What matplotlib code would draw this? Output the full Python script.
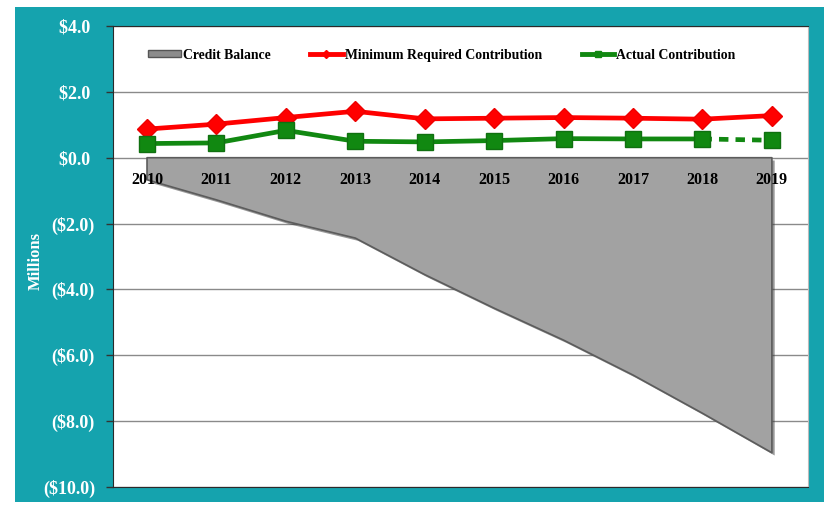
import numpy as np
import matplotlib
matplotlib.use('Agg')
import matplotlib.pyplot as plt
from matplotlib.lines import Line2D
from matplotlib.patches import Rectangle, Patch
import matplotlib.patheffects as pe

years = ['2010', '2011', '2012', '2013', '2014', '2015', '2016', '2017', '2018', '2019']
credit_balance = [-0.67, -1.28, -1.93, -2.44, -3.55, -4.57, -5.54, -6.60, -7.76, -8.96]
min_required = [0.87, 1.02, 1.22, 1.41, 1.18, 1.20, 1.22, 1.20, 1.17, 1.28]
actual = [0.43, 0.45, 0.83, 0.50, 0.48, 0.52, 0.58, 0.57, 0.57, 0.53]
y_ticks = [4, 2, 0, -2, -4, -6, -8, -10]

teal = '#15a3ae'
serif = 'Liberation Serif'
x = np.arange(len(years))

fig = plt.figure(figsize=(8.24, 5.05), dpi=100, facecolor='white')
fig.patches.append(Rectangle((15 / 824, 0.006), 1, 1 - 7 / 505 - 0.006,
                             transform=fig.transFigure, facecolor=teal,
                             edgecolor='none', zorder=-10))
ax = fig.add_axes([113 / 824, 1 - 487 / 505, 695 / 824, 461 / 505])
ax.set_facecolor('white')

# credit balance area
ax.fill_between(x, 0, credit_balance, facecolor='#a2a2a2', edgecolor='#5c5c5c',
                linewidth=1.2, zorder=2,
                path_effects=[pe.SimplePatchShadow(offset=(2, -2), shadow_rgbFace='#333333', alpha=0.5),
                              pe.Normal()])

ax.plot(x, min_required, color='#ff0000', lw=3.4, marker='D', ms=10,
        markeredgecolor='#ee0000', zorder=4)
ax.plot(x[:-1], actual[:-1], color='#118811', lw=3.4, marker='s', ms=11,
        markeredgecolor='#107010', zorder=4)
ax.plot(x[-2:], actual[-2:], color='#118811', lw=3.4, ls=(0, (2, 1.5)), zorder=3)
ax.plot(x[-1:], actual[-1:], color='#118811', marker='s', ms=11,
        markeredgecolor='#107010', ls='none', zorder=4)

ax.set_xlim(-0.49, 9.52)
ax.set_ylim(-10, 4)
ax.set_xticks([])
ax.set_yticks(y_ticks)
ax.set_yticklabels(['$%.1f ' % v if v >= 0 else '($%.1f)' % -v for v in y_ticks],
                   fontfamily=serif, fontweight='bold', fontsize=13, color='white')
ax.tick_params(axis='y', length=5, width=1, color='#333333', pad=8)
ax.grid(axis='y', color='#8a8a8a', lw=1, zorder=1)
ax.set_axisbelow(True)
for side in ['left', 'top', 'bottom']:
    ax.spines[side].set_color('#2a2a2a')
ax.spines['right'].set_color('#bbbbbb')

for i, yr in enumerate(years):
    ax.annotate(yr, (i, 0), xytext=(0, -16), textcoords='offset points',
                ha='center', va='center', fontfamily=serif, fontweight='bold',
                fontsize=11.5, color='black', zorder=5)

fig.text(36 / 824, 1 - 261 / 505, 'Millions', rotation=90, ha='center', va='center',
         fontfamily=serif, fontweight='bold', fontsize=12, color='white')

handles = [
    Patch(facecolor='#8c8c8c', edgecolor='#555555'),
    Line2D([], [], color='#ff0000', lw=3.5, marker='D', ms=4),
    Line2D([], [], color='#118811', lw=3.5, marker='s', ms=5),
]
ax.legend(handles, ['Credit Balance', 'Minimum Required Contribution', 'Actual Contribution'],
          loc='center', bbox_to_anchor=(0.473, 0.937), ncol=3, frameon=False,
          prop={'family': serif, 'weight': 'bold', 'size': 9.9},
          handlelength=2.35, handleheight=0.45, handletextpad=0.15, columnspacing=2.9)

fig.savefig('out.png', dpi=100, facecolor='white')
plt.close(fig)
